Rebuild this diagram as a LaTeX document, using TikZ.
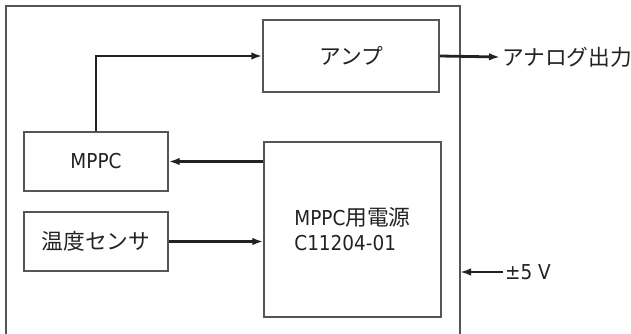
\documentclass[tikz,border=0pt]{standalone}
\usepackage{fontspec}
\setmainfont{DejaVu Sans Condensed}
\newfontfamily\jp[Scale=1.06]{Noto Sans CJK JP}
\usetikzlibrary{arrows.meta}
\definecolor{framegray}{HTML}{555555}
\definecolor{wiregray}{HTML}{222222}

\begin{document}
\begin{tikzpicture}[x=1pt,y=-1pt,
		blk/.style={draw=framegray,line width=1.2pt,inner sep=0pt,text=wiregray},
		wire/.style={draw=wiregray,line width=2.8pt,-{Latex[length=11pt,width=7.5pt]}},
		font=\fontsize{20.5}{25}\selectfont]
			\useasboundingbox (0,0) rectangle (631,334);
			\coordinate (frameNW) at (6,6);
			\coordinate (frameNE) at (460,6);
			\draw[framegray,line width=1.5pt] (6,340)--(frameNW)--(frameNE)--(460,340);
	
			\node[blk,minimum width=176pt,minimum height=72pt] (amp) at (351,56) {\jp アンプ};
			\node[blk,minimum width=144pt,minimum height=59pt] (mppc) at (96,161.5) {MPPC};
			\node[blk,minimum width=144pt,minimum height=59pt] (sensor) at (96,241.5) {\jp 温度センサ};
			\node[blk,minimum width=177pt,minimum height=175pt,align=left] (pwr) at (352.5,229.5) {MPPC{\jp 用電源}\\C11204-01};
	
			\node[anchor=west,inner sep=2pt,text=wiregray] (out) at (500,57) {\jp アナログ出力};
			\node[anchor=west,inner sep=2pt,text=wiregray] (vin) at (503,272) {±5 V};
	
			\draw[wire] (mppc.north) |- (amp.west);
			\draw[wire] (amp.east) -- (out.west);
			\draw[wire] (pwr.west |- mppc.east) -- (mppc.east);
			\draw[wire] (sensor.east) -- (pwr.west |- sensor.east);
			\draw[wire] (vin.west) -- (vin.west -| frameNE);
		\end{tikzpicture}
\end{document}
